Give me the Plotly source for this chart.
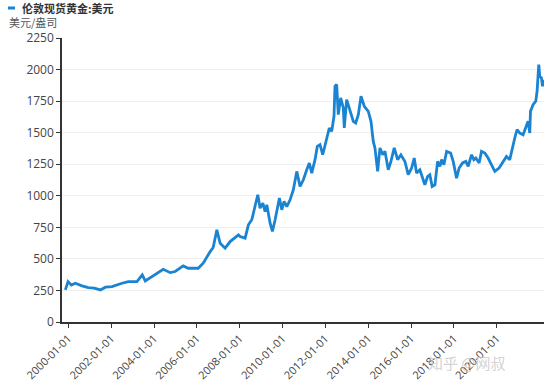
import pandas as pd
import plotly.graph_objects as go

series_name = "伦敦现货黄金:美元"
unit_label = "美元/盎司"

years = [
    1999.860, 1999.986, 2000.140, 2000.326, 2000.639, 2000.932, 2001.210, 2001.492,
    2001.730, 2002.037, 2002.503, 2002.797, 2003.203, 2003.450, 2003.590, 2003.902,
    2004.429, 2004.755, 2004.988, 2005.361, 2005.594, 2006.061, 2006.294, 2006.620,
    2006.760, 2006.932, 2007.086, 2007.319, 2007.552, 2007.939, 2008.019, 2008.252,
    2008.406, 2008.564, 2008.718, 2008.844, 2008.951, 2009.077, 2009.184, 2009.263,
    2009.417, 2009.524, 2009.650, 2009.758, 2009.851, 2009.963, 2010.070, 2010.196,
    2010.350, 2010.503, 2010.662, 2010.816, 2010.970, 2011.128, 2011.249, 2011.361,
    2011.515, 2011.622, 2011.748, 2011.874, 2012.028, 2012.182, 2012.294, 2012.401,
    2012.448, 2012.527, 2012.601, 2012.713, 2012.835, 2012.881, 2012.993, 2013.147,
    2013.301, 2013.413, 2013.534, 2013.660, 2013.814, 2014.000, 2014.126, 2014.233,
    2014.312, 2014.438, 2014.545, 2014.671, 2014.779, 2014.932, 2015.058, 2015.212,
    2015.371, 2015.524, 2015.711, 2015.865, 2016.023, 2016.145, 2016.256, 2016.410,
    2016.517, 2016.643, 2016.769, 2016.876, 2016.984, 2017.110, 2017.235, 2017.343,
    2017.422, 2017.529, 2017.655, 2017.842, 2017.963, 2018.121, 2018.242, 2018.401,
    2018.555, 2018.662, 2018.821, 2018.928, 2019.021, 2019.175, 2019.287, 2019.441,
    2019.594, 2019.753, 2019.907, 2020.107, 2020.294, 2020.452, 2020.606, 2020.732,
    2020.839, 2020.946, 2021.072, 2021.226, 2021.352, 2021.459, 2021.538, 2021.571,
    2021.692, 2021.818, 2021.879, 2021.958, 2022.005, 2022.084, 2022.131, 2022.191,
]

prices = [
    254, 320, 292, 307, 286, 272, 268, 254,
    276, 280, 307, 320, 320, 373, 325, 360,
    418, 391, 400, 444, 426, 426, 466, 558,
    590, 730, 624, 585, 637, 690, 677, 664,
    770, 810, 915, 1008, 902, 942, 875, 929,
    783, 717, 810, 889, 982, 889, 955, 915,
    968, 1048, 1193, 1074, 1127, 1206, 1260, 1180,
    1286, 1391, 1405, 1325, 1431, 1537, 1510, 1630,
    1868, 1881, 1643, 1776, 1696, 1537, 1762, 1669,
    1590, 1577, 1643, 1788, 1709, 1669, 1590, 1431,
    1379, 1193, 1379, 1325, 1352, 1206, 1272, 1379,
    1286, 1325, 1272, 1167, 1220, 1299, 1180, 1206,
    1153, 1087, 1153, 1167, 1074, 1087, 1272, 1233,
    1286, 1246, 1352, 1339, 1272, 1140, 1220, 1260,
    1272, 1233, 1325, 1286, 1299, 1260, 1352, 1339,
    1299, 1246, 1193, 1220, 1272, 1312, 1286, 1391,
    1458, 1524, 1497, 1484, 1550, 1590, 1497, 1669,
    1722, 1749, 1828, 2040, 1947, 1934, 1868, 1920,
]

tick_dates = ["2000-01-01", "2002-01-01", "2004-01-01", "2006-01-01", "2008-01-01",
              "2010-01-01", "2012-01-01", "2014-01-01", "2016-01-01", "2018-01-01",
              "2020-01-01"]
y_ticks = [0, 250, 500, 750, 1000, 1250, 1500, 1750, 2000, 2250]


def to_date(y):
    yr = int(y)
    return pd.Timestamp(yr, 1, 1) + pd.Timedelta(days=(y - yr) * 365.25)


dates = [to_date(y) for y in years]

line_color = "#1a84d2"
font_family = "Open Sans, Noto Sans CJK SC, sans-serif"

PW, PH = 482, 284  # plot area size in px

fig = go.Figure()
fig.add_trace(go.Scatter(
    x=dates, y=prices, mode="lines", name=series_name,
    line=dict(color=line_color, width=2.8),
    showlegend=False,
))

fig.update_layout(
    width=553, height=384,
    margin=dict(l=62, r=9, t=38, b=62, autoexpand=False),
    paper_bgcolor="white", plot_bgcolor="white",
    font=dict(family=font_family, size=11, color="#444"),
    xaxis=dict(
        type="date", automargin=False,
        range=["1999-09-15", "2022-03-16"],
        tickmode="array", tickvals=tick_dates, ticktext=tick_dates,
        tickangle=-45, tickfont=dict(size=11, color="#444"),
        showgrid=False, zeroline=False,
        showline=True, linecolor="#333", linewidth=1.5,
        ticks="outside", ticklen=4, tickcolor="#333",
    ),
    yaxis=dict(
        automargin=False,
        range=[0, 2250], tickmode="array", tickvals=y_ticks,
        tickfont=dict(size=12, color="#444"),
        showgrid=True, gridcolor="#efefef", gridwidth=1,
        zeroline=False,
        showline=True, linecolor="#333", linewidth=1.5,
        ticks="outside", ticklen=4, tickcolor="#333",
    ),
    shapes=[dict(type="line", xref="paper", yref="paper",
                 x0=-54/PW, x1=-47/PW, y0=1 + 30/PH, y1=1 + 30/PH,
                 line=dict(color=line_color, width=3))],
    annotations=[
        dict(text="<b>" + series_name + "</b>", xref="paper", yref="paper",
             x=-42/PW, y=1 + 30/PH, xanchor="left", yanchor="middle",
             showarrow=False, font=dict(size=11, color="#333",
                                        family="Noto Sans CJK SC")),
        dict(text=unit_label, xref="paper", yref="paper",
             x=-55/PW, y=1 + 15.5/PH, xanchor="left", yanchor="middle",
             showarrow=False, font=dict(size=11, color="#555",
                                        family="Noto Sans CJK SC")),
        dict(text="知乎 @网叔", xref="paper", yref="paper",
             x=1 - 36/PW, y=-40/PH, xanchor="right", yanchor="middle",
             showarrow=False, font=dict(size=15, color="rgba(200,200,200,0.8)",
                                        family="Noto Sans CJK SC")),
    ],
)

fig.write_html("out.html", config={"displayModeBar": False},
               post_script="document.body.style.margin='0';document.body.style.padding='0';")
